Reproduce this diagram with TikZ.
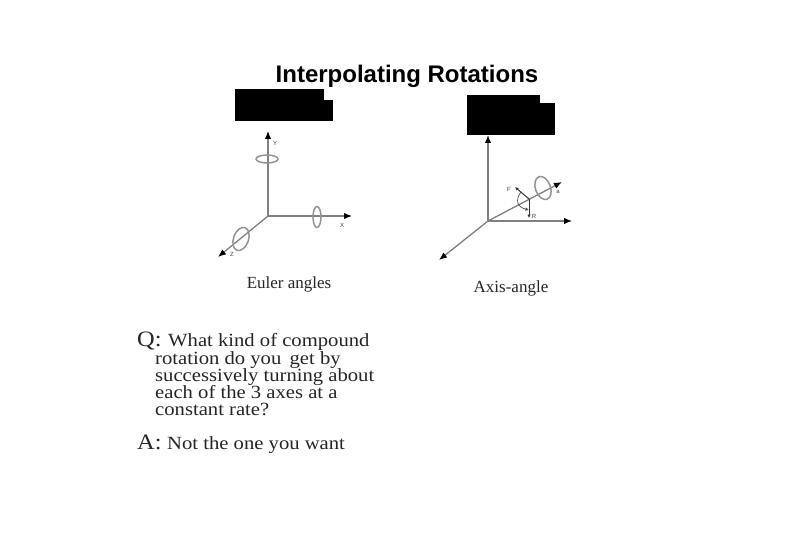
\documentclass[tikz,border=0pt]{standalone}
\usepackage{fontspec}
\setmainfont{Liberation Serif}
\newfontfamily\titlefont{Liberation Sans}
\newfontfamily\bodyfont[FakeStretch=1.11]{Liberation Serif}
\usetikzlibrary{arrows.meta}
\tikzset{
	titletext/.style={font=\fontsize{24}{26}\selectfont\titlefont\bfseries, inner sep=0pt},
	captext/.style={font=\fontsize{17}{19}\selectfont, inner sep=0pt, text=black!85},
	qatext/.style={font=\fontsize{22}{24}\selectfont\bodyfont, inner sep=0pt, anchor=base west, text=black!85},
	bodytext/.style={font=\fontsize{18.6}{17}\selectfont\bodyfont, inner sep=0pt, anchor=base west, text=black!85, text height=12pt, text depth=4pt},
	tinytext/.style={font=\fontsize{6}{7}\selectfont\titlefont, inner sep=0pt, text=black!75},
	axisline/.style={draw=black!50, line width=1.3pt, -{Latex[black,length=8pt,width=6.5pt]}},
	ringline/.style={draw=black!42, line width=1.5pt},
	blackbox/.style={fill=black, draw=none}
}
\begin{document}
\begin{tikzpicture}[x=1pt,y=-1pt]
\useasboundingbox[fill=white] (0,0) rectangle (810,540);

\node[titletext] (title) at (407,76) {Interpolating Rotations};

% covered labels
\fill[blackbox] (235,89) rectangle (324,100);
\fill[blackbox] (235,100) rectangle (333,121);
\fill[blackbox] (467,95) rectangle (540,103);
\fill[blackbox] (467,103) rectangle (555,135);

% euler angles
\coordinate (e0) at (268,216);
\coordinate (ey) at (268,131);
\coordinate (ex) at (352,216);
\coordinate (ez) at (218,257);
\draw[axisline] (e0) -- (ey);
\draw[axisline] (e0) -- (ex);
\draw[axisline] (e0) -- (ez);
\draw[ringline] (267,159) ellipse [x radius=11, y radius=4];
\draw[ringline] (317,217) ellipse [x radius=4, y radius=10.5];
\draw[ringline, rotate around={-20:(241,239)}] (241,239) ellipse [x radius=7.5, y radius=12];
\node[tinytext] (ylabel) at (275,143) {Y};
\node[tinytext] (xlabel) at (342,225) {X};
\node[tinytext] (zlabel) at (232,254) {Z};
\node[captext] (euler) at (289,284) {Euler angles};

% axis-angle
\coordinate (a0) at (488,221);
\coordinate (ay) at (488,135);
\coordinate (ax) at (572,221);
\coordinate (az) at (439,260);
\coordinate (aa) at (562,182);
\coordinate (ap) at (529,199);
\coordinate (af) at (515,187);
\coordinate (ar) at (529,218);
\draw[axisline] (a0) -- (ay);
\draw[axisline] (a0) -- (ax);
\draw[axisline] (a0) -- (az);
\draw[axisline] (a0) -- (aa);
\draw[ringline, rotate around={20:(543,188)}] (543,188) ellipse [x radius=7.5, y radius=12];
\draw[line width=1pt, black!80, -{Latex[length=3.5pt,width=3.5pt]}] (ap) -- (af);
\draw[line width=1pt, black!80, -{Latex[length=3.5pt,width=3.5pt]}] (ap) -- (ar);
\draw[line width=0.7pt, black!70, -{Latex[length=3.5pt,width=3.5pt]}] (521,192) .. controls (515,200) and (517,207) .. (529,210);
\node[tinytext] (flabel) at (509,189) {F};
\node[tinytext] (rlabel) at (534,216) {R};
\node[tinytext] (alabel) at (558,192) {a};
\node[captext] (axisangle) at (511,288) {Axis-angle};

% question and answer
\node[qatext] (q) at (137,346) {Q:};
\node[bodytext] (q1) at (168,346) {What kind of compound};
\node[bodytext] (q2) at (155,364) {rotation do you\, get by};
\node[bodytext] (q3) at (155,381) {successively turning about};
\node[bodytext] (q4) at (155,398) {each of the 3 axes at a};
\node[bodytext] (q5) at (155,415) {constant rate?};
\node[qatext] (a) at (137,449) {A:};
\node[bodytext] (a1) at (167,449) {Not the one you want};
\end{tikzpicture}
\end{document}
